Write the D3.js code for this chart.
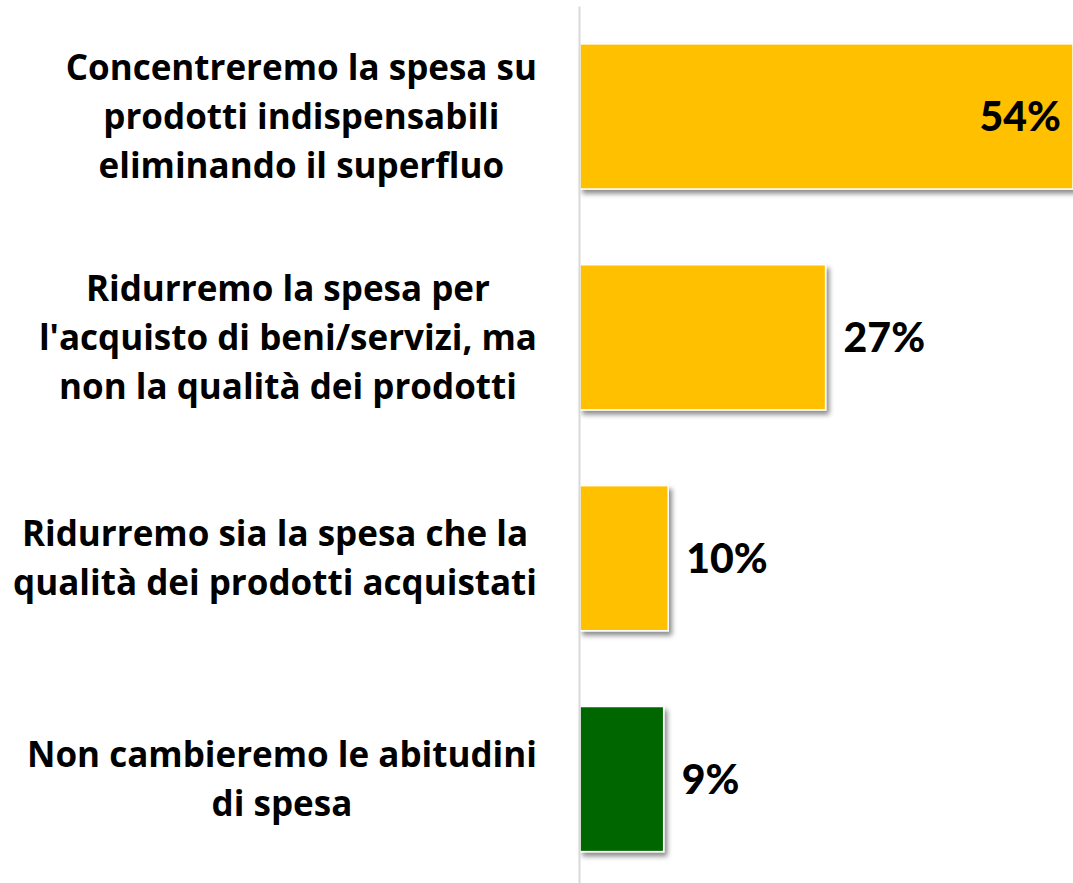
<!DOCTYPE html>
<html>
<head>
<meta charset="utf-8">
<script src="https://d3js.org/d3.v7.min.js"></script>
<style>
  body { margin: 0; background: #fff; }
  text { font-weight: bold; fill: #000; font-variant-ligatures: none; }
  text.value { font-family: "Lato", "Open Sans", sans-serif; font-weight: 900; }
  text.cat { font-family: "Open Sans", "Lato", sans-serif; }
</style>
</head>
<body>
<div id="chart"></div>
<script>
// categories (one entry per bar, split in the lines shown)
var categories = [
  ["Concentreremo la spesa su", "prodotti indispensabili", "eliminando il superfluo"],
  ["Ridurremo la spesa per", "l'acquisto di beni/servizi, ma", "non la qualità dei prodotti"],
  ["Ridurremo sia la spesa che la", "qualità dei prodotti acquistati"],
  ["Non cambieremo le abitudini", "di spesa"]
];
var values = [54.2, 27, 9.7, 9.2];
var valueLabels = ["54%", "27%", "10%", "9%"];

var width = 1073, height = 883;
var axisX = 580;

var svg = d3.select("#chart")
  .append("svg")
    .attr("width", width)
    .attr("height", height);

// drop shadow for the bars
var defs = svg.append("defs");
var f = defs.append("filter")
    .attr("id", "shadow")
    .attr("x", "-10%").attr("y", "-10%")
    .attr("width", "130%").attr("height", "130%");
f.append("feDropShadow")
    .attr("dx", 3).attr("dy", 4)
    .attr("stdDeviation", 2.5)
    .attr("flood-color", "#000")
    .attr("flood-opacity", 0.45);

var idx = d3.range(categories.length);

var y = d3.scaleBand()
  .domain(idx)
  .range([6, 889.5])
  .paddingInner(0.343)
  .paddingOuter(0.1715);

var x = d3.scaleLinear()
  .domain([0, 54.2])
  .range([axisX, width]);

var color = d3.scaleOrdinal()
  .domain(idx)
  .range(["#FFC000", "#FFC000", "#FFC000", "#006600"]);

// bars
svg.selectAll("rect.bar")
  .data(idx)
  .enter().append("rect")
    .attr("class", "bar")
    .attr("x", x(0))
    .attr("y", function(i) { return y(i); })
    .attr("width", function(i) { return x(values[i]) - x(0); })
    .attr("height", y.bandwidth())
    .attr("fill", function(i) { return color(i); })
    .attr("stroke", "#fff")
    .attr("stroke-width", 1.5)
    .attr("filter", "url(#shadow)");

// vertical axis line
svg.append("g")
  .attr("transform", "translate(" + (axisX - 1) + ",0)")
  .call(d3.axisLeft(y).tickSize(0).tickFormat(""))
  .call(function(g) {
    g.select(".domain").attr("stroke", "#d9d9d9").attr("stroke-width", 2);
  });

// value labels
svg.selectAll("text.value")
  .data(idx)
  .enter().append("text")
    .attr("class", "value")
    .style("font-size", "41px")
    .attr("dy", "0.36em")
    .attr("y", function(i) { return y(i) + y.bandwidth() / 2; })
    .attr("x", function(i) {
      return values[i] > 40 ? x(values[i]) - 12 : x(values[i]) + 18;
    })
    .attr("text-anchor", function(i) { return values[i] > 40 ? "end" : "start"; })
    .text(function(i) { return valueLabels[i]; });

// category labels, lines centred in a block that ends at the right edge
var lineH = 49, rightEdge = 537;
idx.forEach(function(i) {
  var lines = categories[i];
  var g = svg.append("g");
  var cy = y(i) + y.bandwidth() / 2;
  var t = g.selectAll("text")
    .data(lines)
    .enter().append("text")
      .attr("class", "cat")
      .style("font-size", "35px")
      .attr("text-anchor", "middle")
      .attr("dy", "0.36em")
      .attr("y", function(d, k) { return cy + (k - (lines.length - 1) / 2) * lineH; })
      .text(function(d) { return d; });
  var maxW = d3.max(t.nodes(), function(n) { return n.getComputedTextLength(); });
  t.attr("x", rightEdge - maxW / 2);
});
</script>
</body>
</html>
